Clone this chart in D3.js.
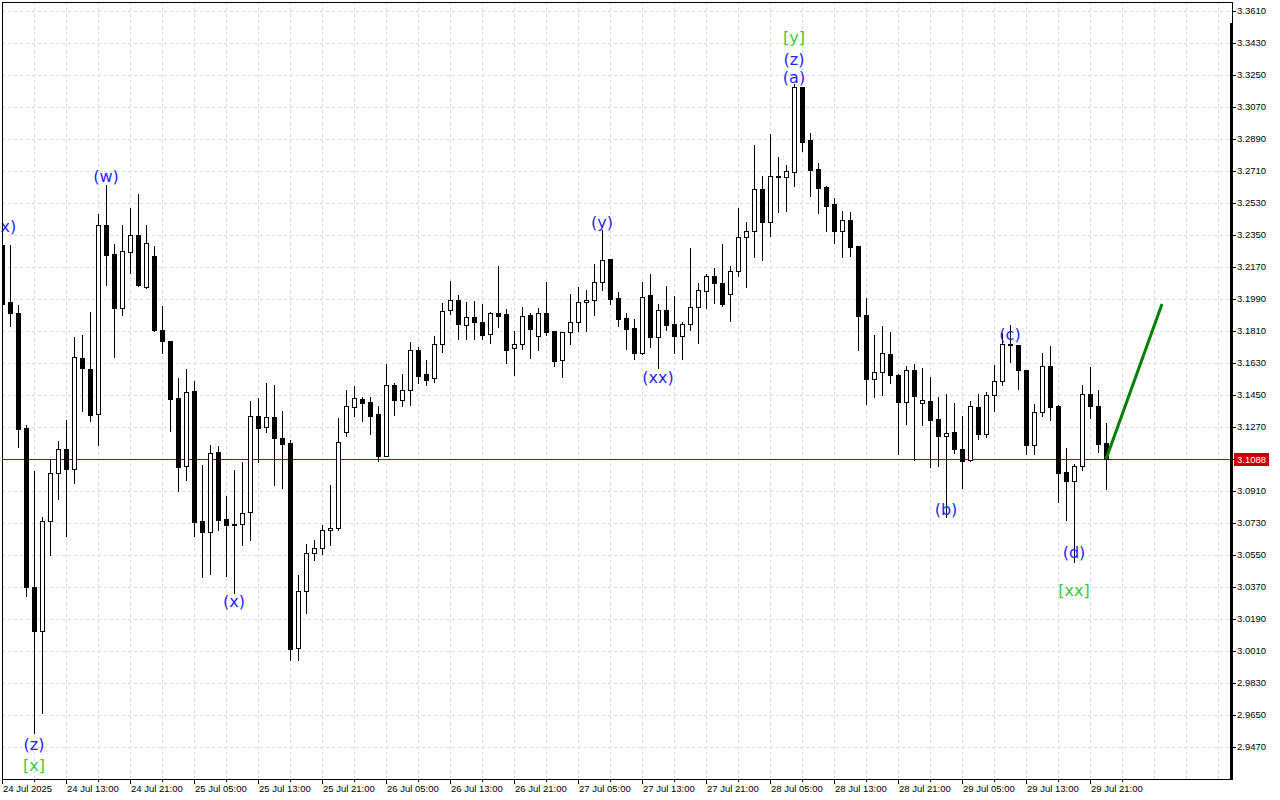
<!DOCTYPE html>
<html><head><meta charset="utf-8">
<script src="https://cdn.jsdelivr.net/npm/d3@7"></script>
<style>
html,body{margin:0;padding:0;background:#fff;}
svg{display:block;}
</style></head><body>
<svg id="c" width="1280" height="800"></svg>
<script>
// ---- data (hourly candles, first bar 24 Jul 2025 05:00) ----
const firstBar = new Date(2025, 6, 24, 5, 0);
const lastBar = new Date(2025, 6, 29, 23, 0);
const opens = [3.2294,3.1973,3.1911,3.1264,3.0370,3.0122,3.0741,3.1011,3.1146,3.1034,
3.1658,3.1596,3.1343,3.2406,3.2243,3.1939,3.2254,3.2350,3.2057,3.2232,
3.1816,3.1754,3.1433,3.1051,3.1473,3.0741,3.0679,3.1129,3.0753,3.0722,
3.0724,3.0792,3.1332,3.1270,3.1326,3.1208,3.1180,3.0027,3.0348,3.0561,
3.0589,3.0691,3.0702,3.1241,3.1383,3.1427,3.1411,3.1343,3.1107,3.1506,
3.1422,3.1478,3.1703,3.1568,3.1546,3.1737,3.1928,3.1984,3.1843,3.1889,
3.1861,3.1793,3.1911,3.1906,3.1714,3.1737,3.1900,3.1782,3.1911,3.1810,
3.1647,3.1804,3.1861,3.1973,3.1984,3.2085,3.2215,3.1996,3.1883,3.1827,
3.1686,3.2013,3.1776,3.1928,3.1849,3.1782,3.1849,3.1945,3.2035,3.2119,
3.2080,3.2018,3.2147,3.2339,3.2373,3.2609,3.2423,3.2679,3.2676,3.2704,
3.3183,3.2884,3.2721,3.2620,3.2524,3.2373,3.2434,3.2288,3.1900,3.1540,
3.1579,3.1680,3.1563,3.1411,3.1591,3.1405,3.1416,3.1315,3.1219,3.1241,
3.1146,3.1084,3.1383,3.1231,3.1450,3.1529,3.1737,3.1731,3.1591,3.1169,
3.1354,3.1613,3.1388,3.1017,3.0966,3.1051,3.1456,3.1388,3.1180];
const highs = [3.2305,3.2294,3.1956,3.1281,3.1022,3.0764,3.1090,3.1191,3.1309,3.1776,
3.1788,3.1917,3.2468,3.2631,3.2299,3.2406,3.2502,3.2581,3.2406,3.2288,
3.1951,3.1754,3.1546,3.1596,3.1529,3.1056,3.1169,3.1163,3.0882,3.1028,
3.1073,3.1416,3.1433,3.1518,3.1506,3.1360,3.1197,3.0438,3.0612,3.0634,
3.0719,3.0944,3.1321,3.1478,3.1501,3.1438,3.1438,3.1388,3.1624,3.1518,
3.1568,3.1748,3.1720,3.1647,3.1782,3.1968,3.2091,3.2013,3.1973,3.1979,
3.1962,3.1917,3.2176,3.1934,3.1810,3.1945,3.1911,3.1939,3.2085,3.1810,
3.1804,3.2018,3.2057,3.2040,3.2187,3.2378,3.2215,3.2029,3.1911,3.1878,
3.2085,3.2131,3.1962,3.2063,3.2007,3.1861,3.2277,3.2080,3.2131,3.2164,
3.2299,3.2176,3.2502,3.2423,3.2856,3.2682,3.2918,3.2789,3.2744,3.3199,
3.3183,3.2924,3.2755,3.2625,3.2558,3.2485,3.2479,3.2288,3.1996,3.1788,
3.1838,3.1804,3.1568,3.1613,3.1624,3.1602,3.1551,3.1438,3.1456,3.1405,
3.1332,3.1416,3.1456,3.1467,3.1619,3.1799,3.1843,3.1731,3.1591,3.1399,
3.1686,3.1726,3.1394,3.1152,3.1062,3.1506,3.1608,3.1478,3.1292];
const lows = [3.1951,3.1838,3.1157,3.0319,2.9549,2.9661,3.0550,3.0865,3.0657,3.0955,
3.1360,3.1304,3.1169,3.2069,3.1664,3.1900,3.2136,3.2063,3.2051,3.1810,
3.1686,3.1247,3.0910,3.0972,3.0657,3.0426,3.0443,3.0691,3.0432,3.0336,
3.0606,3.0634,3.1073,3.1241,3.0944,3.0927,2.9959,2.9959,3.0224,3.0522,
3.0556,3.0606,3.0691,3.1219,3.1332,3.1304,3.1231,3.1079,3.1107,3.1338,
3.1388,3.1394,3.1518,3.1506,3.1524,3.1692,3.1906,3.1765,3.1765,3.1765,
3.1765,3.1742,3.1833,3.1630,3.1563,3.1708,3.1658,3.1703,3.1788,3.1613,
3.1551,3.1737,3.1810,3.1810,3.1900,3.2040,3.1962,3.1838,3.1708,3.1653,
3.1680,3.1720,3.1602,3.1816,3.1686,3.1653,3.1816,3.1742,3.1939,3.1968,
3.1951,3.1866,3.2119,3.2057,3.2226,3.2209,3.2344,3.2479,3.2485,3.2625,
3.2823,3.2569,3.2473,3.2373,3.2305,3.2226,3.2232,3.1703,3.1399,3.1438,
3.1450,3.1518,3.1118,3.1287,3.1084,3.1281,3.1045,3.1051,3.0764,3.1124,
3.0927,3.1079,3.1202,3.1214,3.1360,3.1506,3.1636,3.1484,3.1118,3.1118,
3.1332,3.1309,3.0848,3.0747,3.0510,3.1028,3.1321,3.1129,3.0921];
const closes = [3.1962,3.1911,3.1259,3.0370,3.0122,3.0741,3.1011,3.1146,3.1034,3.1664,
3.1602,3.1338,3.2406,3.2238,3.1939,3.2260,3.2350,3.2066,3.2305,3.1816,
3.1754,3.1427,3.1045,3.1467,3.0736,3.0679,3.1124,3.0747,3.0719,3.0719,
3.0786,3.1332,3.1264,3.1326,3.1206,3.1174,3.0021,3.0348,3.0561,3.0589,
3.0691,3.0702,3.1186,3.1388,3.1433,3.1405,3.1332,3.1107,3.1506,3.1422,
3.1478,3.1703,3.1557,3.1534,3.1737,3.1923,3.1984,3.1849,3.1889,3.1861,
3.1788,3.1911,3.1894,3.1703,3.1737,3.1894,3.1821,3.1911,3.1804,3.1641,
3.1804,3.1861,3.1973,3.1984,3.2085,3.2209,3.1990,3.1878,3.1821,3.1686,
3.2001,3.1776,3.1928,3.1843,3.1782,3.1849,3.1945,3.2040,3.2119,3.2080,
3.1962,3.2147,3.2339,3.2373,3.2609,3.2423,3.2682,3.2682,3.2710,3.3183,
3.2873,3.2716,3.2614,3.2513,3.2373,3.2434,3.2283,3.1894,3.1540,3.1579,
3.1686,3.1563,3.1411,3.1591,3.1444,3.1422,3.1309,3.1219,3.1236,3.1146,
3.1079,3.1388,3.1231,3.1450,3.1529,3.1737,3.1734,3.1591,3.1169,3.1354,
3.1613,3.1383,3.1011,3.0966,3.1051,3.1456,3.1388,3.1174,3.1088];

const priceTicks = [3.3610,3.3430,3.3250,3.3070,3.2890,3.2710,3.2530,3.2350,3.2170,3.1990,
3.1810,3.1630,3.1450,3.1270,3.1090,3.0910,3.0730,3.0550,3.0370,3.0190,3.0010,2.9830,2.9650,2.9470];
const timeTickLabels = ["24 Jul 2025","24 Jul 13:00","24 Jul 21:00","25 Jul 05:00","25 Jul 13:00",
"25 Jul 21:00","26 Jul 05:00","26 Jul 13:00","26 Jul 21:00","27 Jul 05:00","27 Jul 13:00",
"27 Jul 21:00","28 Jul 05:00","28 Jul 13:00","28 Jul 21:00","29 Jul 05:00","29 Jul 13:00","29 Jul 21:00"];
const lastPrice = 3.1088;

// wave labels: text, bar index, price level, kind
const waveText  = ["(x)","(w)","(z)","[x]","(x)","(y)","(xx)","[y]","(z)","(a)","(b)","(c)","(d)","[xx]"];
const waveBar   = [0.4,13,4,4,29,75,82,99,99,99,118,126,134,134];
const wavePrice = [3.2401,3.2682,2.9487,2.9369,3.0291,3.2423,3.1551,3.3464,3.3340,3.3239,3.0809,3.1793,3.0567,3.0353];
const waveKind  = ["minor","minor","minor","major","minor","minor","minor","major","minor","minor","minor","minor","minor","major"];

// forecast arrow
const forecastBars = [138,145];
const forecastPrices = [3.1088,3.1962];

// ---- drawing ----
const svg = d3.select("#c");
const L = 2, T = 2, R = 1231, B = 779;
const hourMs = 3600*1000;
const x = d3.scaleTime().domain([firstBar, lastBar]).range([2, 1106]);
const y = d3.scaleLinear().domain([2.9470, 3.3610]).range([747, 11]);
const barTime = i => new Date(firstBar.getTime() + i*hourMs);

svg.append("rect").attr("width",1280).attr("height",800).attr("fill","#fff");
svg.append("defs").append("clipPath").attr("id","plot")
  .append("rect").attr("x",L).attr("y",T).attr("width",R-L).attr("height",B-T);

const grid = svg.append("g").attr("clip-path","url(#plot)").attr("shape-rendering","crispEdges");
// vertical grid every 4 hours
const gridTimes = d3.timeHour.every(1).range(firstBar, new Date(2025,6,31,0)).filter((d,i)=> i%4===0);
grid.selectAll("line.v").data(gridTimes).join("line")
  .attr("x1",d=>Math.round(x(d))+0.5).attr("x2",d=>Math.round(x(d))+0.5)
  .attr("y1",T).attr("y2",B)
  .attr("stroke","#dcdcdc").attr("stroke-dasharray","3,3");
grid.selectAll("line.h").data(priceTicks).join("line")
  .attr("y1",d=>Math.round(y(d))+0.5).attr("y2",d=>Math.round(y(d))+0.5)
  .attr("x1",L).attr("x2",R)
  .attr("stroke","#dcdcdc").attr("stroke-dasharray","3,3");

// current price line
svg.append("line").attr("shape-rendering","crispEdges")
  .attr("x1",L).attr("x2",R).attr("y1",Math.round(y(lastPrice))+0.5).attr("y2",Math.round(y(lastPrice))+0.5)
  .attr("stroke","#b00000").attr("stroke-width",1);

// candles
const bars = opens.map((o,i)=>({t:barTime(i),o,h:highs[i],l:lows[i],c:closes[i]}));
const cg = svg.append("g").attr("clip-path","url(#plot)").attr("shape-rendering","crispEdges");
const g = cg.selectAll("g").data(bars).join("g");
g.append("line")
  .attr("x1",d=>Math.round(x(d.t))+0.5).attr("x2",d=>Math.round(x(d.t))+0.5)
  .attr("y1",d=>Math.round(y(d.h))).attr("y2",d=>Math.round(y(d.l))+1)
  .attr("stroke","#000");
g.each(function(d){
  const cx = Math.round(x(d.t));
  const top = Math.round(y(Math.max(d.o,d.c)));
  const bot = Math.round(y(Math.min(d.o,d.c)));
  const sel = d3.select(this);
  if (d.c < d.o) {
    sel.append("rect").attr("x",cx-2).attr("y",top).attr("width",5).attr("height",Math.max(1,bot-top+1)).attr("fill","#000");
  } else {
    if (bot-top < 2) {
      sel.append("rect").attr("x",cx-2).attr("y",top).attr("width",5).attr("height",Math.max(1,bot-top+1)).attr("fill","#000");
    } else {
      sel.append("rect").attr("x",cx-1.5).attr("y",top+0.5).attr("width",4).attr("height",bot-top)
        .attr("fill","#fff").attr("stroke","#000").attr("stroke-width",1);
    }
  }
});

// forecast line
svg.append("line")
  .attr("x1",x(barTime(forecastBars[0]))).attr("y1",y(forecastPrices[0]))
  .attr("x2",x(barTime(forecastBars[1]))).attr("y2",y(forecastPrices[1]))
  .attr("stroke","#008000").attr("stroke-width",3).attr("stroke-linecap","butt");

// wave labels
svg.append("g").selectAll("text").data(waveText).join("text")
  .attr("x",(d,i)=>x(barTime(waveBar[i])))
  .attr("y",(d,i)=>y(wavePrice[i]))
  .attr("dy","0.36em")
  .attr("text-anchor","middle")
  .attr("font-family","'DejaVu Sans',sans-serif")
  .attr("font-size",16)
  .attr("fill",(d,i)=>waveKind[i]==="major" ? "#3cc83c" : "#1e1eff")
  .text(d=>d);

// frame
const fr = svg.append("g").attr("shape-rendering","crispEdges");
fr.append("line").attr("x1",L+0.5).attr("x2",L+0.5).attr("y1",T).attr("y2",B+1).attr("stroke","#000");
fr.append("line").attr("x1",L).attr("x2",R+2).attr("y1",T+0.5).attr("y2",T+0.5).attr("stroke","#000");
fr.append("line").attr("x1",L).attr("x2",R+2).attr("y1",B+0.5).attr("y2",B+0.5).attr("stroke","#000");
fr.append("line").attr("x1",R+1.5).attr("x2",R+1.5).attr("y1",T).attr("y2",23).attr("stroke","#000");
fr.append("rect").attr("x",R-1).attr("y",23).attr("width",3).attr("height",B-23+1).attr("fill","#000");

// right axis
const ra = svg.append("g");
ra.selectAll("line").data(priceTicks).join("line").attr("shape-rendering","crispEdges")
  .attr("x1",R+2).attr("x2",R+5).attr("y1",d=>Math.round(y(d))+0.5).attr("y2",d=>Math.round(y(d))+0.5)
  .attr("stroke","#000");
ra.selectAll("text").data(priceTicks).join("text")
  .attr("x",R+6).attr("y",d=>y(d)).attr("dy","0.35em")
  .attr("font-family","'Liberation Sans',Arial,sans-serif").attr("font-size",9.5).attr("fill","#000")
  .text(d=>d.toFixed(4));
// last price tag
ra.append("rect").attr("x",R+3).attr("y",Math.round(y(lastPrice))-6).attr("width",35).attr("height",13).attr("fill","#c80000");
ra.append("text").attr("x",R+6).attr("y",y(lastPrice)).attr("dy","0.35em")
  .attr("font-family","'Liberation Sans',Arial,sans-serif").attr("font-size",9.5).attr("fill","#fff")
  .text(lastPrice.toFixed(4));

// bottom axis
const ba = svg.append("g");
const majorTimes = timeTickLabels.map((s,i)=> new Date(firstBar.getTime() + i*8*hourMs));
const minorTimes = timeTickLabels.map((s,i)=> new Date(firstBar.getTime() + (i*8+4)*hourMs));
ba.selectAll("line.mj").data(majorTimes).join("line").attr("shape-rendering","crispEdges")
  .attr("x1",d=>Math.round(x(d))+0.5).attr("x2",d=>Math.round(x(d))+0.5).attr("y1",B).attr("y2",B+5).attr("stroke","#000");
ba.selectAll("line.mn").data(minorTimes).join("line").attr("shape-rendering","crispEdges")
  .attr("x1",d=>Math.round(x(d))+0.5).attr("x2",d=>Math.round(x(d))+0.5).attr("y1",B).attr("y2",B+3).attr("stroke","#000");
ba.selectAll("text").data(timeTickLabels).join("text")
  .attr("x",(d,i)=>Math.round(x(majorTimes[i]))+1).attr("y",792)
  .attr("font-family","'Liberation Sans',Arial,sans-serif").attr("font-size",9.5).attr("fill","#000")
  .text(d=>d);
</script>
</body></html>
